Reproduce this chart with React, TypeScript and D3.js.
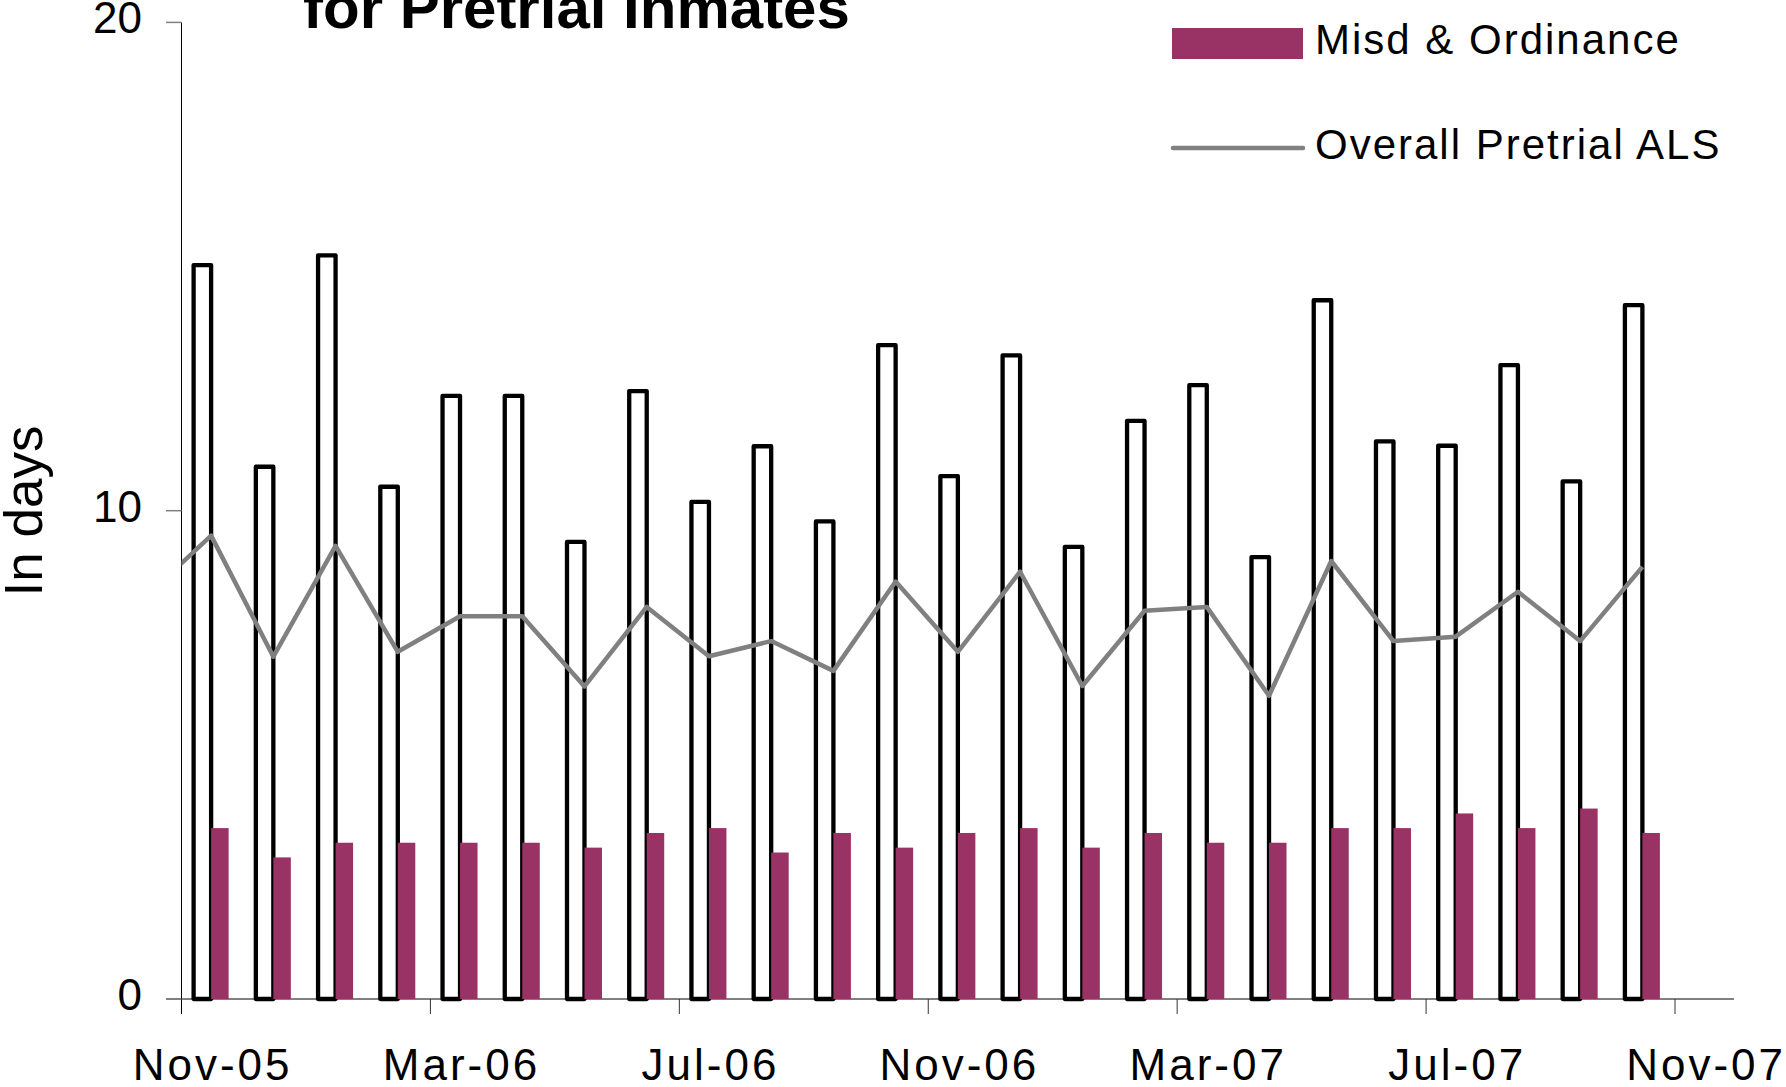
import React from "react";
import * as d3 from "d3";

// Months shown on the date axis (one slot per month)
const months = [
  "Nov-05", "Dec-05", "Jan-06", "Feb-06", "Mar-06", "Apr-06", "May-06", "Jun-06",
  "Jul-06", "Aug-06", "Sep-06", "Oct-06", "Nov-06", "Dec-06", "Jan-07", "Feb-07",
  "Mar-07", "Apr-07", "May-07", "Jun-07", "Jul-07", "Aug-07", "Sep-07", "Oct-07",
];

// Outlined (white) bars
const otherALS = [
  15.03, 10.9, 15.23, 10.49, 12.35, 12.35, 9.36, 12.45, 10.18, 11.32, 9.78, 13.39,
  10.71, 13.18, 9.26, 11.84, 12.57, 9.05, 14.31, 11.42, 11.33, 12.98, 10.6, 14.21,
];

// Misd & Ordinance bars
const misdOrdinance = [
  3.5, 2.9, 3.2, 3.2, 3.2, 3.2, 3.1, 3.4, 3.5, 3.0, 3.4, 3.1,
  3.4, 3.5, 3.1, 3.4, 3.2, 3.2, 3.5, 3.5, 3.8, 3.5, 3.9, 3.4,
];

// Overall Pretrial ALS line
const overallALS = [
  9.49, 7.01, 9.28, 7.11, 7.84, 7.84, 6.4, 8.03, 7.02, 7.33, 6.72, 8.55,
  7.11, 8.75, 6.41, 7.95, 8.03, 6.21, 8.97, 7.33, 7.42, 8.34, 7.33, 8.85,
];
// value of the month before the first slot (its segment enters from the axis)
const overallPrevMonth = 8.3;

const yTicks = [0, 10, 20];
const xTickLabels = ["Nov-05", "Mar-06", "Jul-06", "Nov-06", "Mar-07", "Jul-07", "Nov-07"];
const xTickEvery = 4;

const FONT = "'Liberation Sans', Arial, sans-serif";
const PURPLE = "#993366";
const GREY = "#808080";

export default function App() {
  const W = 1786;
  const H = 1087;
  const left = 181.5;
  const right = 1675;
  const x = d3.scaleLinear().domain([0, months.length]).range([left, right]);
  const y = d3.scaleLinear().domain([0, 20]).range([999, 22.4]);
  const barW = 17.5;
  const center = (i: number) => x(i + 0.5) - 1.5;

  const lineData: [number, number][] = [
    [-1, overallPrevMonth],
    ...overallALS.map((v, i) => [i, v] as [number, number]),
  ];
  const linePath = d3
    .line<[number, number]>()
    .x((d) => center(d[0]))
    .y((d) => y(d[1]))(lineData) as string;

  const tickIdx = xTickLabels.map((_, k) => k * xTickEvery);

  return (
    <svg
      width={W}
      height={H}
      viewBox={`0 0 ${W} ${H}`}
      style={{ position: "absolute", left: 0, top: 0, background: "#fff" }}
    >
      <defs>
        <clipPath id="plotClip">
          <rect x={left} y={0} width={W - left} height={H} />
        </clipPath>
      </defs>
      <rect x={0} y={0} width={W} height={H} fill="#fff" />

      {/* Title (cut off at the top) */}
      <text
        x={303}
        y={28}
        fontFamily={FONT}
        fontWeight="bold"
        fontSize={60}
        fill="#000"
      >
        for Pretrial Inmates
      </text>

      {/* Y axis title */}
      <text
        transform={`translate(42,511) rotate(-90)`}
        textAnchor="middle"
        fontFamily={FONT}
        fontSize={53}
        fill="#000"
      >
        In days
      </text>

      {/* X axis line */}
      <line x1={166} x2={1734} y1={y(0)} y2={y(0)} stroke={GREY} strokeWidth={2} />

      {/* X ticks */}
      {tickIdx.map((i) => (
        <line
          key={"xt" + i}
          x1={x(i)}
          x2={x(i)}
          y1={y(0)}
          y2={y(0) + 15}
          stroke="#333"
          strokeWidth={1}
        />
      ))}
      {/* X tick labels, centred in the month slot */}
      {xTickLabels.map((lab, k) => (
        <text
          key={"xl" + lab}
          x={x(tickIdx[k] + 0.5)}
          y={1080}
          textAnchor="middle"
          fontFamily={FONT}
          fontSize={44}
          letterSpacing={3}
          fill="#000"
        >
          {lab}
        </text>
      ))}

      {/* Y axis */}
      <line x1={left} x2={left} y1={y(20)} y2={y(0) + 15} stroke="#000" strokeWidth={1} />
      {yTicks.map((t) => (
        <g key={"yt" + t}>
          <line x1={166} x2={left} y1={y(t)} y2={y(t)} stroke={GREY} strokeWidth={1.5} />
          <text
            x={142}
            y={y(t) + 11}
            textAnchor="end"
            fontFamily={FONT}
            fontSize={44}
            fill="#000"
          >
            {t}
          </text>
        </g>
      ))}

      {/* Outlined bars */}
      {otherALS.map((v, i) => (
        <rect
          key={"ob" + i}
          x={center(i) - barW}
          y={y(v)}
          width={barW}
          height={y(0) - y(v)}
          fill="#fff"
          stroke="#000"
          strokeWidth={4.3}
          strokeLinejoin="round"
        />
      ))}

      {/* Misd & Ordinance bars */}
      {misdOrdinance.map((v, i) => (
        <rect
          key={"mb" + i}
          x={center(i)}
          y={y(v)}
          width={barW}
          height={y(0) - y(v)}
          fill={PURPLE}
        />
      ))}

      {/* Overall line */}
      <path
        d={linePath}
        fill="none"
        stroke={GREY}
        strokeWidth={4.5}
        strokeLinejoin="round"
        clipPath="url(#plotClip)"
      />

      {/* Legend */}
      <rect x={1172} y={28} width={131} height={31} fill={PURPLE} />
      <text x={1315} y={54} fontFamily={FONT} fontSize={42} letterSpacing={2} fill="#000">
        Misd &amp; Ordinance
      </text>
      <line
        x1={1173}
        x2={1303}
        y1={148}
        y2={148}
        stroke={GREY}
        strokeWidth={4.5}
        strokeLinecap="round"
      />
      <text x={1315} y={159} fontFamily={FONT} fontSize={42} letterSpacing={2} fill="#000">
        Overall Pretrial ALS
      </text>
    </svg>
  );
}
